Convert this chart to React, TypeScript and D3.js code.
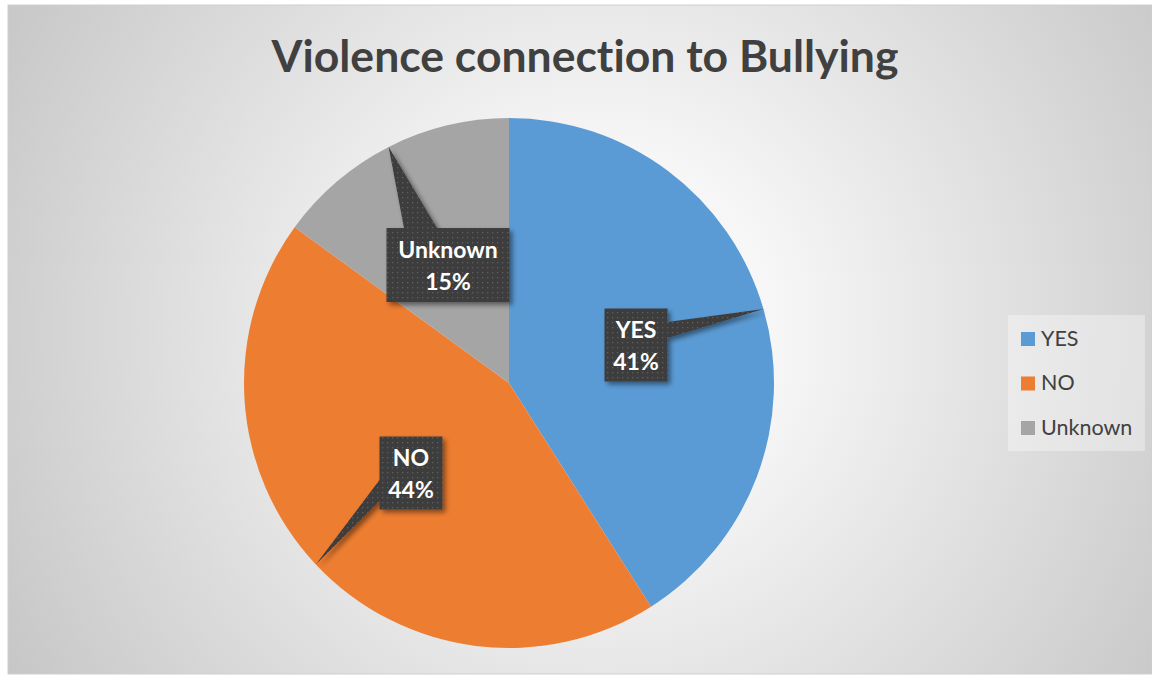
import React from "react";
import * as d3 from "d3";

const categories = ["YES", "NO", "Unknown"];
const values = [41, 44, 15];
const colors = ["#5B9BD5", "#ED7D31", "#A5A5A5"];
const title = "Violence connection to Bullying";

const W = 1152;
const H = 675;
const cx = 509;
const cy = 383;
const R = 265;

// label box layout (center x, center y, width, height, side of pointer)
const labelBoxes = [
  { x: 636, y: 345, w: 63, h: 73, side: "right" },
  { x: 411, y: 473, w: 63, h: 73, side: "left" },
  { x: 448, y: 265, w: 123, h: 74, side: "top" },
];

export default function App() {
  const pie = d3.pie<number>().sort(null).value((d) => d);
  const arcs = pie(values);
  const arcGen = d3.arc<d3.PieArcDatum<number>>().innerRadius(0).outerRadius(R);
  const total = d3.sum(values);
  const fmt = (v: number) => `${Math.round((v / total) * 100)}%`;

  return (
    <svg
      width={W}
      height={H}
      style={{ position: "absolute", left: 0, top: 0, display: "block", fontVariantLigatures: "none" }}
      fontFamily="Lato, 'Open Sans', sans-serif"
    >
      <defs>
        <radialGradient id="bg" gradientUnits="userSpaceOnUse" cx={600} cy={330} r={720}>
          <stop offset="0" stopColor="#ffffff" />
          <stop offset="0.25" stopColor="#f6f6f6" />
          <stop offset="1" stopColor="#c3c3c3" />
        </radialGradient>
        <pattern id="dots" width="5" height="5" patternUnits="userSpaceOnUse">
          <rect width="5" height="5" fill="#3d3d3d" />
          <rect x="2" y="2" width="1.3" height="1.3" fill="#5e5e5e" />
        </pattern>
        <filter id="shadow" x="-30%" y="-30%" width="160%" height="160%">
          <feDropShadow dx="3" dy="3" stdDeviation="2.5" floodColor="#000" floodOpacity="0.45" />
        </filter>
      </defs>
      <rect width={W} height={H} fill="#ffffff" />
      <rect x={8} y={5} width={W - 8} height={669} fill="url(#bg)" stroke="#cfcfcf" />
      <text
        x={585}
        y={72}
        textAnchor="middle"
        fontSize={44.5}
        fontWeight="bold"
        fill="#404040"
      >
        {title}
      </text>
      <g transform={`translate(${cx},${cy})`}>
        {arcs.map((a, i) => (
          <path key={categories[i]} d={arcGen(a) || ""} fill={colors[i]} />
        ))}
      </g>
      {arcs.map((a, i) => {
        const mid = (a.startAngle + a.endAngle) / 2;
        const ax = cx + Math.sin(mid) * R;
        const ay = cy - Math.cos(mid) * R;
        const b = labelBoxes[i];
        const x0 = b.x - b.w / 2;
        const x1 = b.x + b.w / 2;
        const y0 = b.y - b.h / 2;
        const y1 = b.y + b.h / 2;
        let d = "";
        if (b.side === "right") {
          d = `M${x0},${y0}H${x1}V${b.y - 23}L${ax},${ay}L${x1},${b.y - 7}V${y1}H${x0}Z`;
        } else if (b.side === "left") {
          d = `M${x0},${y0}H${x1}V${y1}H${x0}V${b.y + 28}L${ax},${ay}L${x0},${b.y + 7}Z`;
        } else {
          d = `M${x0},${y0}H${b.x - 44}L${ax},${ay}L${b.x - 11},${y0}H${x1}V${y1}H${x0}Z`;
        }
        return (
          <g key={"lbl" + i}>
            <path d={d} fill="url(#dots)" filter="url(#shadow)" />
            <text
              x={b.x}
              y={b.y - 7}
              textAnchor="middle"
              fontSize={23}
              fontWeight="bold"
              fill="#ffffff"
            >
              {categories[i]}
            </text>
            <text
              x={b.x}
              y={b.y + 25}
              textAnchor="middle"
              fontSize={23}
              fontWeight="bold"
              fill="#ffffff"
            >
              {fmt(values[i])}
            </text>
          </g>
        );
      })}
      <g>
        <rect x={1008} y={315} width={137} height={136} fill="#ffffff" fillOpacity={0.35} />
        {categories.map((c, i) => (
          <g key={"leg" + c} transform={`translate(1021,${332 + i * 44.5})`}>
            <rect width={14} height={14} fill={colors[i]} />
            <text x={20} y={13.5} fontSize={21.5} fill="#404040">
              {c}
            </text>
          </g>
        ))}
      </g>
    </svg>
  );
}
